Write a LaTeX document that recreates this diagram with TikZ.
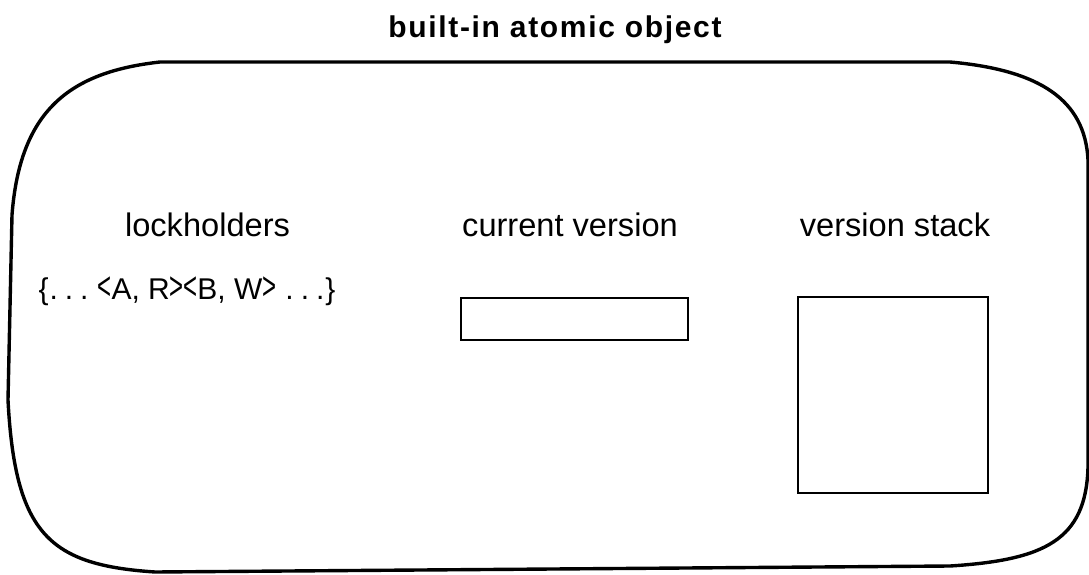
\documentclass[tikz,border=0pt]{standalone}
\usepackage{fontspec}
\usepackage{graphicx}
\setmainfont{Liberation Sans}
\newfontfamily\titlefont[LetterSpace=5.5]{Liberation Sans}
\begin{document}
\begin{tikzpicture}[x=1pt,y=-1pt,
  lbl/.style={font=\fontsize{32.6}{36}\selectfont, anchor=base, inner sep=0pt, outer sep=0pt},
  titlelbl/.style={font=\titlefont\fontsize{30}{36}\selectfont\bfseries, anchor=base, inner sep=0pt, outer sep=0pt},
  boxnode/.style={draw, line width=2.8pt, inner sep=0pt, outer sep=0pt, anchor=north west},
  blob/.style={line width=3.4pt, line join=round}]
\useasboundingbox (0,0) rectangle (1089,575);
% outer rounded object
\draw[blob] (160,62) -- (950,62)
  .. controls (1040,70) and (1085,100) .. (1088,160)
  -- (1088,467)
  .. controls (1086,540) and (1045,560) .. (950,566)
  -- (155,572)
  .. controls (50,565) and (15,535) .. (8,400)
  -- (12,215)
  .. controls (20,110) and (70,72) .. (160,62) -- cycle;
% title
\node[titlelbl] (title) at (555,38) {built-in atomic object};
% labels
\node[lbl] (lock) at (207.5,236) {lockholders};
\node[lbl] (curlbl) at (570,236) {current version};
\node[lbl] (stacklbl) at (895,236) {version stack};
\node[lbl, font=\fontsize{30}{34}\selectfont] (set) at (187,299)
  {\{\kern1pt.\kern7pt.\kern7pt.\kern9pt\scalebox{0.8}[1.3]{<}A, R\scalebox{0.8}[1.3]{>}\kern-0.5pt\scalebox{0.8}[1.3]{<}B, W\scalebox{0.8}[1.3]{>}\kern9pt.\kern7pt.\kern7pt.\kern1pt\}};
% boxes
\node[boxnode, minimum width=227pt, minimum height=42pt] (cur) at (461,298) {};
\node[boxnode, minimum width=190pt, minimum height=196pt] (stack) at (798,297) {};
\end{tikzpicture}
\end{document}
